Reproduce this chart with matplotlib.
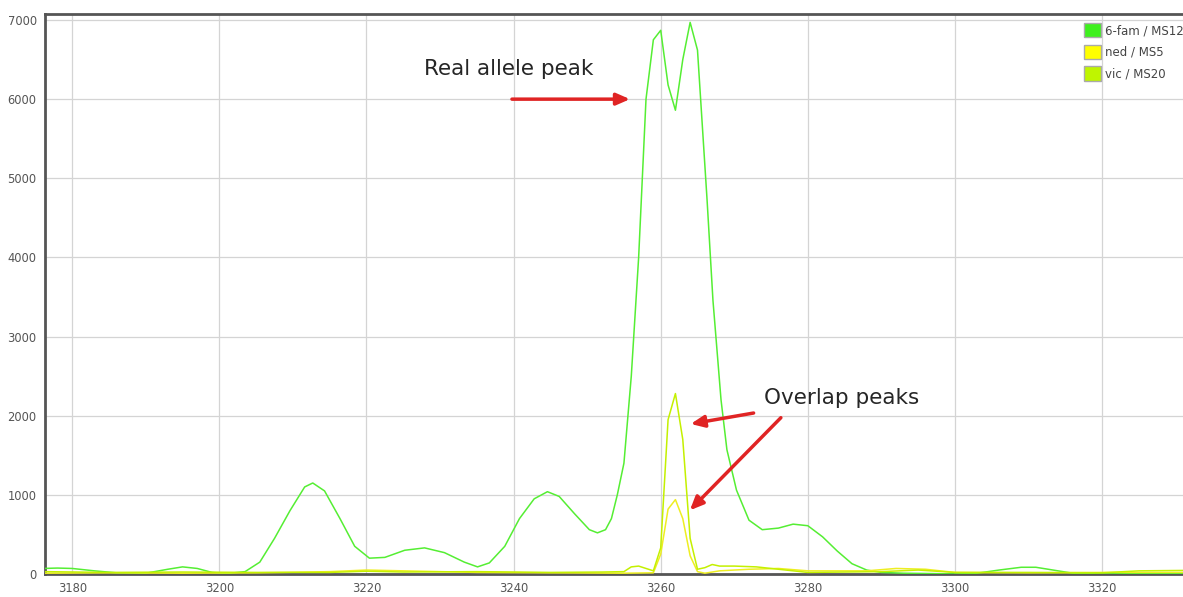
import matplotlib
matplotlib.use("Agg")
import matplotlib.pyplot as plt
from matplotlib.patches import Patch

# ---- data ----
fam_x = [3176, 3178, 3180, 3183, 3186, 3190, 3193, 3195, 3197, 3199, 3201, 3203.5, 3205.5, 3207.5,
         3209.6, 3211.6, 3212.7, 3214.3, 3216.4, 3218.4, 3220.4, 3222.5, 3225.2, 3227.9, 3230.6,
         3233.3, 3235.1, 3236.7, 3238.8, 3240.8, 3242.8, 3244.6, 3246.2, 3248.3, 3250.3, 3251.4,
         3252.5, 3253.3, 3254.1, 3255, 3256, 3257, 3258, 3259, 3260, 3261, 3262, 3263, 3264, 3265,
         3266.3, 3267.1, 3268.2, 3269, 3270.3, 3272, 3273.8, 3276, 3278, 3280, 3282, 3284, 3286,
         3288, 3290, 3293, 3297, 3300, 3303, 3306, 3309, 3311, 3314, 3316, 3320, 3325, 3331]
fam_y = [70, 75, 70, 40, 15, 10, 60, 90, 70, 20, 5, 30, 150, 450,
         800, 1100, 1150, 1050, 700, 350, 200, 210, 300, 330, 270,
         150, 90, 140, 350, 700, 950, 1040, 980, 760, 560, 520,
         560, 700, 1000, 1400, 2500, 4000, 6000, 6750, 6870, 6180, 5860, 6500, 6970, 6620,
         4730, 3460, 2200, 1570, 1060, 680, 560, 580, 630, 610, 470, 290, 130,
         50, 20, 10, 5, 0, 10, 50, 85, 85, 40, 10, 0, 5, 5]

vic_x = [3176, 3185, 3195, 3205, 3215, 3220, 3225, 3235, 3245, 3252, 3255, 3256, 3257, 3258, 3259,
         3260, 3261, 3262, 3263, 3264, 3265, 3266, 3267, 3268, 3270, 3273, 3276, 3280, 3290, 3295,
         3300, 3310, 3320, 3325, 3331]
vic_y = [30, 20, 25, 20, 20, 35, 25, 30, 20, 25, 30, 90, 100, 70, 40,
         330, 1950, 2280, 1700, 450, 60, 80, 120, 100, 100, 90, 60, 20, 30, 50,
         20, 20, 15, 40, 45]

ned_x = [3176, 3185, 3195, 3205, 3215, 3220, 3225, 3235, 3245, 3255, 3259, 3260, 3261, 3262, 3263,
         3264, 3265, 3266, 3268, 3272, 3276, 3280, 3288, 3292, 3296, 3300, 3310, 3320, 3331]
ned_y = [10, 15, 10, 15, 30, 50, 40, 20, 15, 10, 15, 250, 820, 940, 700,
         230, 30, 10, 40, 60, 70, 40, 40, 70, 60, 20, 15, 20, 20]

series_labels = ["6-fam / MS12", "ned / MS5", "vic / MS20"]
series_colors = ["#3ef01e", "#ffff00", "#bff500"]
line_colors = ["#55ee33", "#eeee22", "#c4f000"]

x_ticks = [3180, 3200, 3220, 3240, 3260, 3280, 3300, 3320]
y_ticks = [0, 1000, 2000, 3000, 4000, 5000, 6000, 7000]

# ---- figure ----
W, H = 1183, 597
fig = plt.figure(figsize=(W / 100, H / 100), dpi=100)
ax = fig.add_axes([45 / W, (H - 574) / H, (W - 45) / W, (574 - 14) / H])

ax.plot(fam_x, fam_y, color=line_colors[0], lw=1.1, zorder=3)
ax.plot(ned_x, ned_y, color=line_colors[1], lw=1.1, zorder=4)
ax.plot(vic_x, vic_y, color=line_colors[2], lw=1.1, zorder=4)

ax.set_xlim(3176.3, 3331.0)
ax.set_ylim(0, 7076)
ax.set_xticks(x_ticks)
ax.set_yticks(y_ticks)
ax.grid(True, color="#d4d4d4", lw=0.9)
ax.set_axisbelow(True)
ax.tick_params(axis="both", labelsize=8.3, colors="#666666", length=0, pad=6)
for lab in ax.get_xticklabels() + ax.get_yticklabels():
    lab.set_color("#555555")
for s in ["left", "top", "bottom"]:
    ax.spines[s].set_color("#555555")
    ax.spines[s].set_linewidth(2.0)
ax.spines["right"].set_visible(False)

# annotations
red = "#e02424"
ax.annotate("", xy=(3256.2, 6000), xytext=(3239.4, 6000),
            arrowprops=dict(arrowstyle="-|>,head_length=0.8,head_width=0.35", color=red, lw=2.5))
ax.text(3227.8, 6384, "Real allele peak", fontsize=15.5, color="#262626", ha="left", va="center")

ax.annotate("", xy=(3263.7, 1890), xytext=(3273.0, 2040),
            arrowprops=dict(arrowstyle="-|>,head_length=0.8,head_width=0.35", color=red, lw=2.5))
ax.annotate("", xy=(3263.7, 780), xytext=(3276.6, 2000),
            arrowprops=dict(arrowstyle="-|>,head_length=0.8,head_width=0.35", color=red, lw=2.5))
ax.text(3274.0, 2225, "Overlap peaks", fontsize=15.5, color="#262626", ha="left", va="center")

handles = [Patch(facecolor=c, edgecolor="#aaaaaa", lw=1.0) for c in series_colors]
leg = fig.legend(handles, series_labels, loc="upper left", bbox_to_anchor=(1084 / W, 1 - 23 / H),
                 frameon=False, fontsize=8.5, handlelength=1.45, handleheight=1.5,
                 handletextpad=0.3, labelspacing=0.62, borderaxespad=0, borderpad=0)
for t in leg.get_texts():
    t.set_color("#444444")

fig.savefig("out.png", dpi=100)
